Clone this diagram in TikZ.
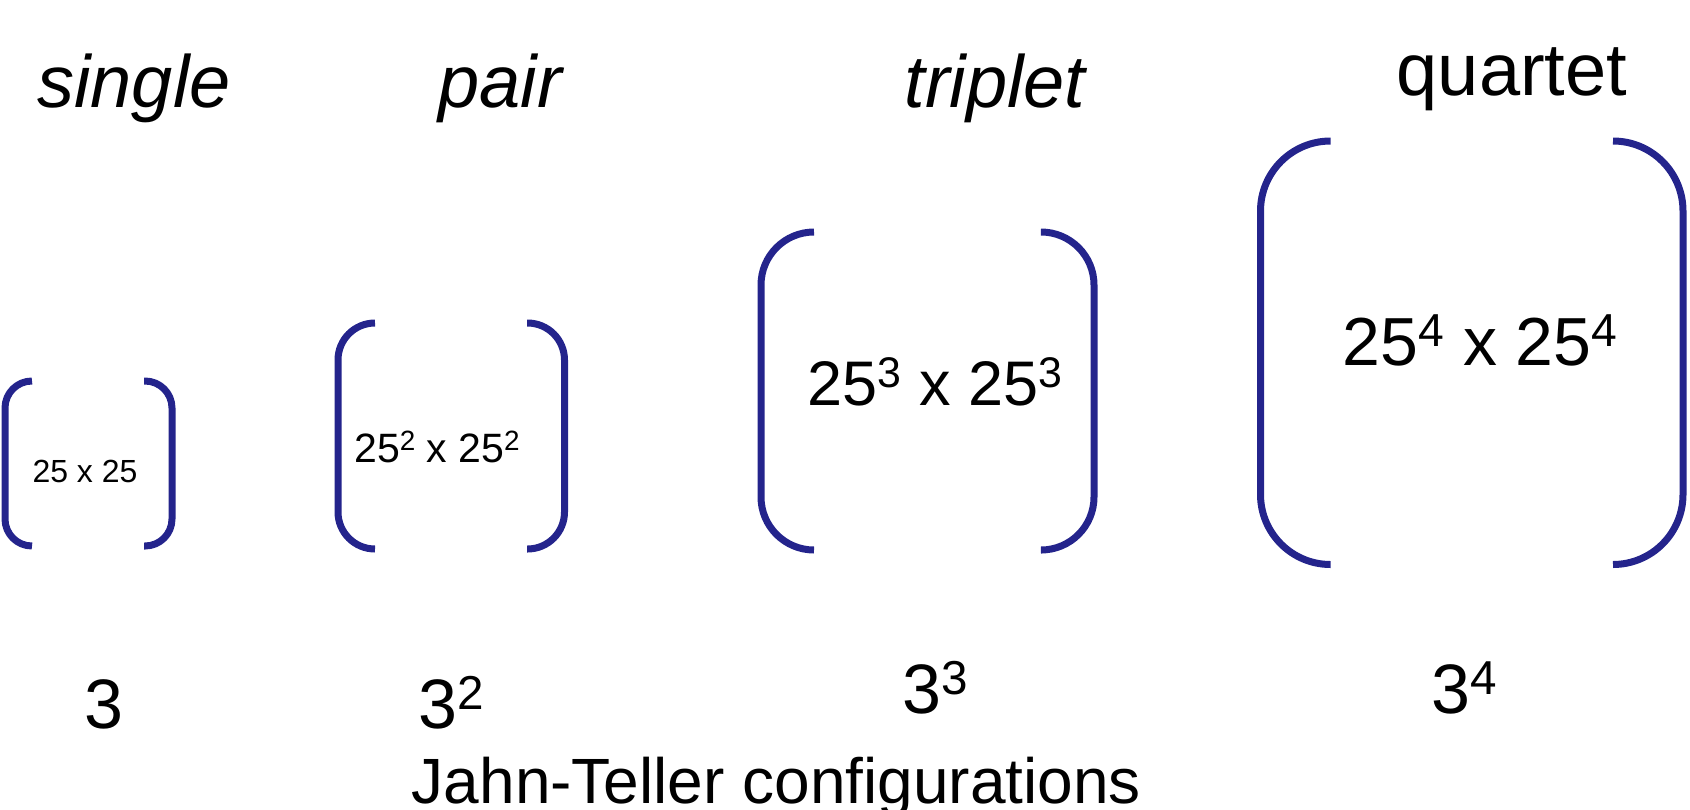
\documentclass[tikz,border=0pt]{standalone}
\usepackage{fontspec}
\setmainfont{Liberation Sans}
\definecolor{brkc}{RGB}{36,36,140}
% raised, reduced exponent
\newcommand{\sups}[1]{\raisebox{0.27em}{\scalebox{0.68}{#1}}}
% a pair of rounded brackets: left x, left end x, right end x, right x, top y, bottom y, radius
\newcommand{\bracketpair}[7]{%
  \draw[brk, rounded corners=#7] (#2,#5) -- (#1,#5) -- (#1,#6) -- (#2,#6);
  \draw[brk, rounded corners=#7] (#3,#5) -- (#4,#5) -- (#4,#6) -- (#3,#6);}
\begin{document}
\begin{tikzpicture}[x=1pt, y=-1pt,
  brk/.style={draw=brkc, line width=7pt},
  lbl/.style={inner sep=0pt, anchor=base},
  fs/.style={font=\fontsize{#1}{#1}\selectfont}]
\useasboundingbox (0,0) rectangle (1690,809);

% column titles
\node[lbl, fs=74] (tsingle)  at (134,107) {\itshape single};
\node[lbl, fs=74] (tpair)    at (500,107) {\itshape pair};
\node[lbl, fs=74] (ttriplet) at (995,107) {\itshape triplet};
\node[lbl, fs=74] (tquartet) at (1512,95) {quartet};

% matrices
\bracketpair{5}{32}{144}{172}{381}{546}{27}
\bracketpair{338}{375}{527}{564.5}{323}{549}{37}
\bracketpair{761}{814}{1042}{1094}{232}{550}{53}
\bracketpair{1260.5}{1330.7}{1613}{1683}{141}{564.5}{70}

\node[lbl, fs=32] (m1) at (85,482)   {25 x 25};
\node[lbl, fs=41] (m2) at (437,462)  {25\sups{2} x 25\sups{2}};
\node[lbl, fs=63] (m3) at (935,405)  {25\sups{3} x 25\sups{3}};
\node[lbl, fs=68] (m4) at (1480,365) {25\sups{4} x 25\sups{4}};

% number of configurations
\node[lbl, fs=70] (c1) at (103.5,728) {3};
\node[lbl, fs=70] (c2) at (451,728)   {3\sups{2}};
\node[lbl, fs=70] (c3) at (935.5,713) {3\sups{3}};
\node[lbl, fs=70] (c4) at (1464,713)  {3\sups{4}};

\node[lbl, fs=64] (caption) at (776.5,803) {Jahn-Teller configurations};
\end{tikzpicture}
\end{document}
